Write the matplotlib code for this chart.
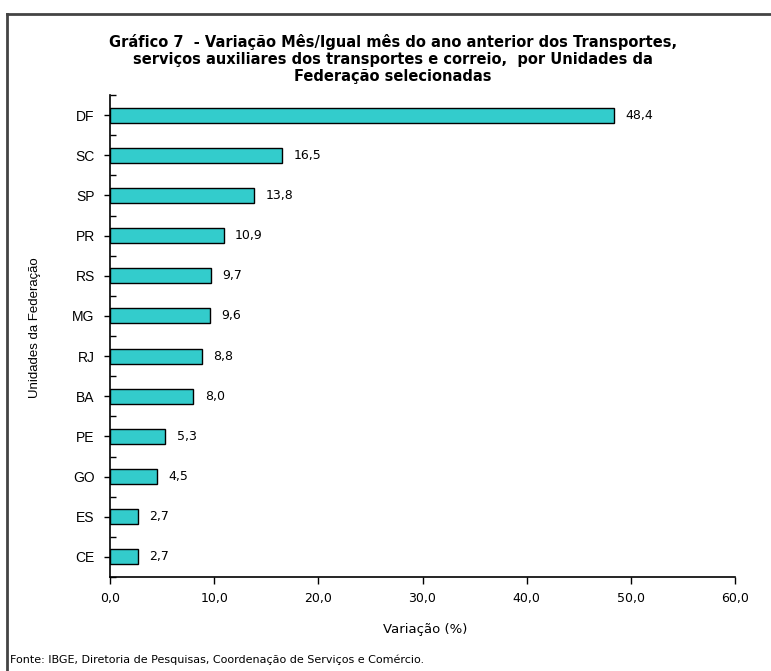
import matplotlib
matplotlib.use("Agg")
import matplotlib.pyplot as plt
from matplotlib.lines import Line2D
from matplotlib.ticker import FixedLocator

categories = ["DF", "SC", "SP", "PR", "RS", "MG", "RJ", "BA", "PE", "GO", "ES", "CE"]
values = [48.4, 16.5, 13.8, 10.9, 9.7, 9.6, 8.8, 8.0, 5.3, 4.5, 2.7, 2.7]
xticks = [0, 10, 20, 30, 40, 50, 60]
xticklabels = ["0,0", "10,0", "20,0", "30,0", "40,0", "50,0", "60,0"]

title = ("Gráfico 7  - Variação Mês/Igual mês do ano anterior dos Transportes,\n"
         "serviços auxiliares dos transportes e correio,  por Unidades da\n"
         "Federação selecionadas")

W, H = 771, 671
fig = plt.figure(figsize=(W / 100, H / 100), dpi=100)
fig.patch.set_facecolor("white")

narrow = ["Liberation Sans Narrow", "DejaVu Sans Condensed", "DejaVu Sans"]
regular = ["Liberation Sans", "DejaVu Sans"]

# axes: left 110, right 735, top 95, bottom 577 (pixels)
left, right, top, bottom = 110, 735, 95, 577
ax = fig.add_axes([left / W, 1 - bottom / H, (right - left) / W, (bottom - top) / H])

n = len(categories)
ypos = list(range(n))
ax.barh(ypos, values, height=0.37, color="#33CCCC", edgecolor="black", linewidth=1.0)
ax.set_ylim(n - 0.5, -0.5)
ax.set_xlim(0, 60)

for y, v in zip(ypos, values):
    ax.text(v + 1.1, y, f"{v:.1f}".replace(".", ","), va="center", ha="left",
            fontsize=9, family=narrow)

ax.set_yticks(ypos)
ax.set_yticklabels(categories, family=regular, fontsize=10)
ax.yaxis.set_minor_locator(FixedLocator([i - 0.5 for i in range(n + 1)]))
ax.tick_params(axis="y", which="major", direction="out", length=4, width=1, pad=7)
ax.tick_params(axis="y", which="minor", direction="in", length=4, width=1)

ax.set_xticks(xticks)
ax.set_xticklabels(xticklabels, family=narrow, fontsize=9)
ax.tick_params(axis="x", direction="out", length=5, width=1, pad=6)

for s in ["top", "right"]:
    ax.spines[s].set_visible(False)
for s in ["left", "bottom"]:
    ax.spines[s].set_linewidth(1.2)

fig.text(425 / W, 1 - 630 / H, "Variação (%)", ha="center", va="center",
         fontsize=9.5, family=narrow)
fig.text(35 / W, 1 - 328 / H, "Unidades da Federação", ha="center", va="center",
         rotation=90, fontsize=9.5, family=regular)
fig.text(393 / W, 1 - 59 / H, title, ha="center", va="center", fontsize=10.5,
         fontweight="bold", family=narrow, linespacing=1.2)
fig.text(10 / W, 1 - 660 / H, "Fonte: IBGE, Diretoria de Pesquisas, Coordenação de Serviços e Comércio.",
         ha="left", va="center", fontsize=8, family=narrow)

# outer frame (left and top edges visible)
fig.add_artist(Line2D([7 / W, 7 / W], [0, 1 - 14 / H], transform=fig.transFigure,
                      color="#444444", linewidth=2))
fig.add_artist(Line2D([7 / W, 1], [1 - 14 / H, 1 - 14 / H], transform=fig.transFigure,
                      color="#444444", linewidth=2))

fig.savefig("out.png", dpi=100, facecolor="white")
